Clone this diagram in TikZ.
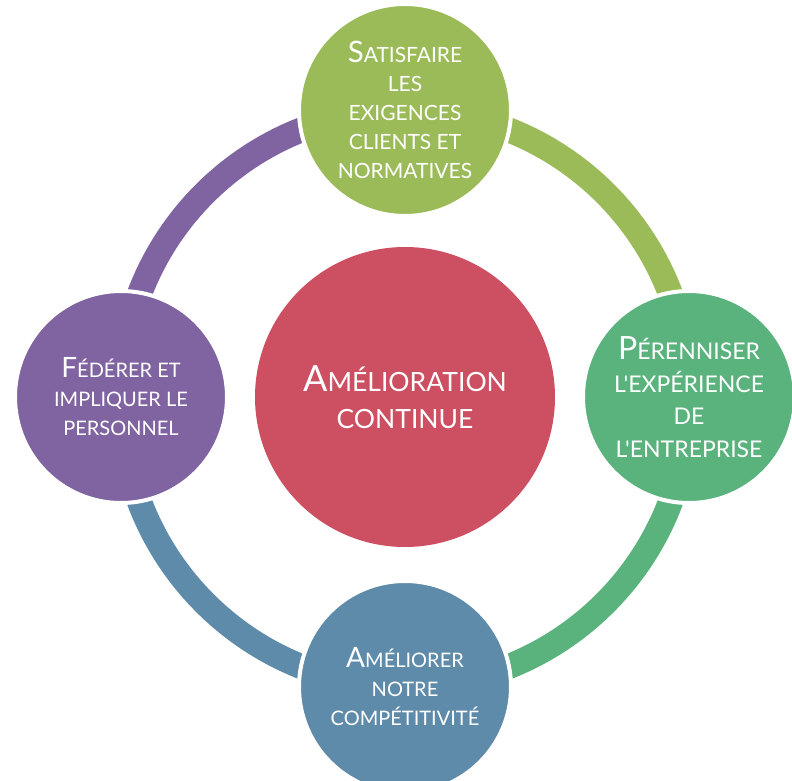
\documentclass[tikz,border=0pt]{standalone}
\usepackage{fontspec}
\setmainfont{Lato}[Ligatures=TeXOff]
\usetikzlibrary{backgrounds}
\definecolor{satgreen}{HTML}{9BBB59}
\definecolor{pergreen}{HTML}{5AB27D}
\definecolor{ameblue}{HTML}{5F8BAA}
\definecolor{fedpurple}{HTML}{8064A2}
\definecolor{hubred}{HTML}{CD5062}
\newcommand{\initcap}[2][28]{{\fontsize{#1}{29}\selectfont #2}}

\begin{document}
\begin{tikzpicture}[x=1pt,y=1pt,
    stage/.style={circle,fill=#1,draw=white,line width=4pt,minimum size=212pt,inner sep=0pt,
      text=white,align=center,font=\fontsize{20}{29}\selectfont},
    hub/.style={circle,fill=hubred,minimum size=300pt,inner sep=0pt,
      text=white,align=center,font=\fontsize{26.5}{37}\selectfont},
    ring/.style={draw=#1,line width=25pt}]
  \useasboundingbox (-405,-384) rectangle (387,397);
  \node[hub] (hub) at (0,0) {\initcap[36]{A}MÉLIORATION\\CONTINUE};
  \node[stage=satgreen,font=\fontsize{21}{29}\selectfont] (sat) at (90:287)
    {\initcap[29.5]{S}ATISFAIRE\\LES\\EXIGENCES\\CLIENTS ET\\NORMATIVES};
  \node[stage=pergreen,font=\fontsize{23}{32.5}\selectfont] (per) at (0:284)
    {\initcap[32]{P}ÉRENNISER\\L'EXPÉRIENCE\\DE\\L'ENTREPRISE};
  \node[stage=ameblue] (ame) at (270:290)
    {\initcap{A}MÉLIORER\\NOTRE\\COMPÉTITIVITÉ};
  \node[stage=fedpurple] (fed) at (180:284)
    {\initcap{F}ÉDÉRER ET\\IMPLIQUER LE\\PERSONNEL};
  % cycle ring behind the stages
  \begin{pgfonlayer}{background}
    \foreach \a/\b/\col in {sat/per/satgreen,per/ame/pergreen,ame/fed/ameblue,fed/sat/fedpurple}
      \draw[ring=\col] (\a.center) to[bend left=45] (\b.center);
  \end{pgfonlayer}
\end{tikzpicture}
\end{document}
